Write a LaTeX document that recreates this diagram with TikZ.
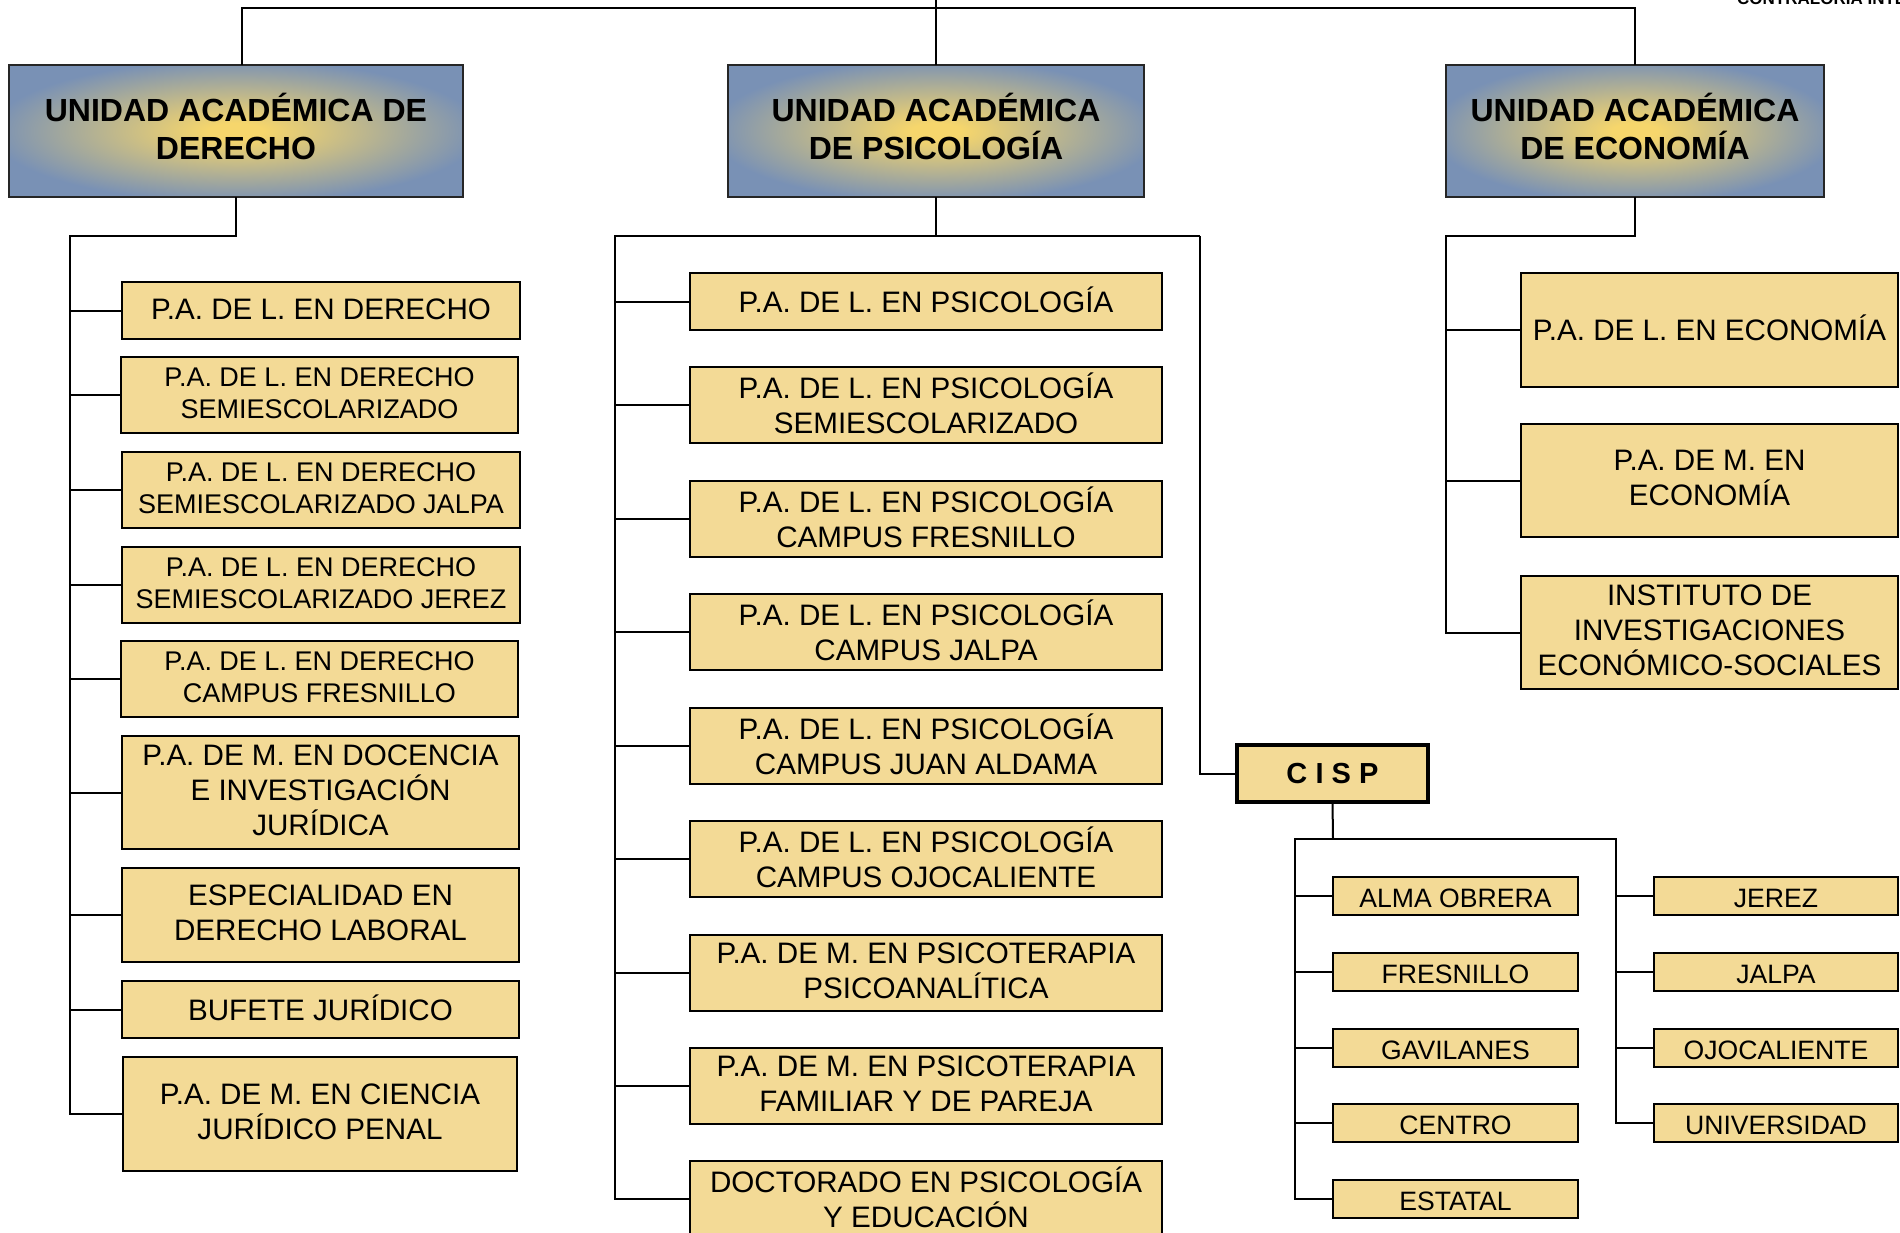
\documentclass[tikz,border=0pt]{standalone}
\usepackage{fontspec}
\setmainfont{Liberation Sans}
\definecolor{hy}{RGB}{246,214,108}
\definecolor{hb}{RGB}{121,145,181}
\definecolor{bf}{RGB}{243,218,150}
\pgfdeclareradialshading{hdrshade}{\pgfpoint{0bp}{0bp}}{color(0bp)=(hy); color(3bp)=(hy); color(27bp)=(hb); color(50bp)=(hb)}
\newcommand\mys{\rule[-4.6pt]{0pt}{27pt}}
\newcommand\hys{\rule[-10pt]{0pt}{31pt}}
\newcommand\sys{\rule[-2pt]{0pt}{26pt}}
\begin{document}
\begin{tikzpicture}[x=1pt,y=-1pt,
  hdr/.style={draw=black!85, line width=2pt, shading=hdrshade, inner sep=0pt, outer sep=0pt, anchor=north west, align=center, font=\fontsize{32}{38}\selectfont\bfseries, execute at begin node=\hys, execute at end node=\hys},
  basebox/.style={draw=black, line width=2pt, fill=bf, inner sep=0pt, outer sep=0pt, anchor=north west, align=center},
  pbox/.style={basebox, font=\fontsize{29.6}{35}\selectfont, execute at begin node=\mys, execute at end node=\mys},
  tbox/.style={pbox, font=\fontsize{27}{32}\selectfont},
  sbox/.style={basebox, minimum height=38pt, font=\fontsize{26.6}{30}\selectfont, execute at begin node=\sys, execute at end node=\sys},
  cispbox/.style={draw=black, line width=3.5pt, fill=bf, inner sep=0pt, outer sep=0pt, anchor=north west, font=\fontsize{29}{34}\selectfont\bfseries},
  conn/.style={draw=black, line width=2pt}]
\useasboundingbox (0,0) rectangle (1900,1233);
\fill[white] (0,0) rectangle (1900,1233);

% top-right label (cut by the page edge, as in the original)
\node[anchor=base west, inner sep=0pt, font=\fontsize{17}{20}\selectfont\bfseries] (ci) at (1737,5) {CONTRALORÍA INTERNA};

% headers
\node[hdr, minimum width=454pt, minimum height=132pt] (hd) at (9,65) {UNIDAD ACADÉMICA DE\\DERECHO};
\node[hdr, minimum width=416pt, minimum height=132pt] (hp) at (728,65) {UNIDAD ACADÉMICA\\DE PSICOLOGÍA};
\node[hdr, minimum width=378pt, minimum height=132pt] (he) at (1446,65) {UNIDAD ACADÉMICA\\DE ECONOMÍA};

% top connectors
\coordinate (tl) at (242,8);
\coordinate (tr) at (1635,8);
\coordinate (tc) at (936,-5);
\draw[conn] (tl |- hd.north) -- (tl) -- (tr) -- (he.north);
\draw[conn] (tc) -- (hp.north);

% ---------- Derecho ----------
\node[pbox, minimum width=398pt, minimum height=57pt] (d1) at (122,282) {P.A. DE L. EN DERECHO};
\node[tbox, minimum width=397pt, minimum height=76pt] (d2) at (121,357) {P.A. DE L. EN DERECHO\\SEMIESCOLARIZADO};
\node[tbox, minimum width=398pt, minimum height=76pt] (d3) at (122,452) {P.A. DE L. EN DERECHO\\SEMIESCOLARIZADO JALPA};
\node[tbox, minimum width=398pt, minimum height=76pt] (d4) at (122,547) {P.A. DE L. EN DERECHO\\SEMIESCOLARIZADO JEREZ};
\node[tbox, minimum width=397pt, minimum height=76pt] (d5) at (121,641) {P.A. DE L. EN DERECHO\\CAMPUS FRESNILLO};
\node[pbox, minimum width=397pt, minimum height=113pt] (d6) at (122,736) {P.A. DE M. EN DOCENCIA\\E INVESTIGACIÓN\\JURÍDICA};
\node[pbox, minimum width=397pt, minimum height=94pt] (d7) at (122,868) {ESPECIALIDAD EN\\DERECHO LABORAL};
\node[pbox, minimum width=397pt, minimum height=57pt] (d8) at (122,981) {BUFETE JURÍDICO};
\node[pbox, minimum width=394pt, minimum height=114pt] (d9) at (123,1057) {P.A. DE M. EN CIENCIA\\JURÍDICO PENAL};

\coordinate (dj) at (236,236);
\coordinate (dt) at (70,236);
\coordinate (db) at (70,1114);
\draw[conn] (hd.south) -- (dj) -- (dt) -- (db |- d9.west) -- (d9.west);
\foreach \n in {d1,d2,d3,d4,d5,d6,d7,d8} {\draw[conn] (\n.west) -- (\n.west -| dt);}

% ---------- Psicologia ----------
\node[pbox, minimum width=472pt, minimum height=57pt] (p1) at (690,273) {P.A. DE L. EN PSICOLOGÍA};
\node[pbox, minimum width=472pt, minimum height=76pt] (p2) at (690,367) {P.A. DE L. EN PSICOLOGÍA\\SEMIESCOLARIZADO};
\node[pbox, minimum width=472pt, minimum height=76pt] (p3) at (690,481) {P.A. DE L. EN PSICOLOGÍA\\CAMPUS FRESNILLO};
\node[pbox, minimum width=472pt, minimum height=76pt] (p4) at (690,594) {P.A. DE L. EN PSICOLOGÍA\\CAMPUS JALPA};
\node[pbox, minimum width=472pt, minimum height=76pt] (p5) at (690,708) {P.A. DE L. EN PSICOLOGÍA\\CAMPUS JUAN ALDAMA};
\node[pbox, minimum width=472pt, minimum height=76pt] (p6) at (690,821) {P.A. DE L. EN PSICOLOGÍA\\CAMPUS OJOCALIENTE};
\node[pbox, minimum width=472pt, minimum height=76pt] (p7) at (690,935) {P.A. DE M. EN PSICOTERAPIA\\PSICOANALÍTICA};
\node[pbox, minimum width=472pt, minimum height=76pt] (p8) at (690,1048) {P.A. DE M. EN PSICOTERAPIA\\FAMILIAR Y DE PAREJA};
\node[pbox, minimum width=472pt, minimum height=76pt] (p9) at (690,1161) {DOCTORADO EN PSICOLOGÍA\\Y EDUCACIÓN};

\coordinate (pj) at (936,236);
\coordinate (pl) at (615,236);
\coordinate (pr) at (1200,236);
\draw[conn] (hp.south) -- (pj);
\draw[conn] (p9.west) -- (p9.west -| pl) -- (pl) -- (pr);
\foreach \n in {p1,p2,p3,p4,p5,p6,p7,p8} {\draw[conn] (\n.west) -- (\n.west -| pl);}

% ---------- CISP ----------
\node[cispbox, minimum width=191pt, minimum height=57pt] (cisp) at (1237,745) {C\hspace{0.28em}I\hspace{0.28em}S\hspace{0.28em}P};
\draw[conn] (pr) -- (pr |- cisp.west) -- (cisp.west);

\node[sbox, minimum width=245pt] (s1) at (1333,877) {ALMA OBRERA};
\node[sbox, minimum width=245pt] (s2) at (1333,953) {FRESNILLO};
\node[sbox, minimum width=245pt] (s3) at (1333,1029) {GAVILANES};
\node[sbox, minimum width=245pt] (s4) at (1333,1104) {CENTRO};
\node[sbox, minimum width=245pt] (s5) at (1333,1180) {ESTATAL};
\node[sbox, minimum width=244pt] (r1) at (1654,877) {JEREZ};
\node[sbox, minimum width=244pt] (r2) at (1654,953) {JALPA};
\node[sbox, minimum width=244pt] (r3) at (1654,1029) {OJOCALIENTE};
\node[sbox, minimum width=244pt] (r4) at (1654,1104) {UNIVERSIDAD};

\coordinate (cj) at (1333,839);
\coordinate (cl) at (1295,839);
\coordinate (cr) at (1616,839);
\draw[conn] (cisp.south) -- (cj);
\draw[conn] (s5.west) -- (s5.west -| cl) -- (cl) -- (cr) -- (cr |- r4.west) -- (r4.west);
\foreach \n in {s1,s2,s3,s4} {\draw[conn] (\n.west) -- (\n.west -| cl);}
\foreach \n in {r1,r2,r3} {\draw[conn] (\n.west) -- (\n.west -| cr);}

% ---------- Economia ----------
\node[pbox, minimum width=377pt, minimum height=114pt] (e1) at (1521,273) {P.A. DE L. EN ECONOMÍA};
\node[pbox, minimum width=377pt, minimum height=113pt] (e2) at (1521,424) {P.A. DE M. EN\\ECONOMÍA};
\node[pbox, minimum width=377pt, minimum height=113pt] (e3) at (1521,576) {INSTITUTO DE\\INVESTIGACIONES\\ECONÓMICO-SOCIALES};

\coordinate (ej) at (1635,236);
\coordinate (el) at (1446,236);
\draw[conn] (he.south) -- (ej) -- (el) -- (el |- e3.west) -- (e3.west);
\foreach \n in {e1,e2} {\draw[conn] (\n.west) -- (\n.west -| el);}
\end{tikzpicture}
\end{document}
